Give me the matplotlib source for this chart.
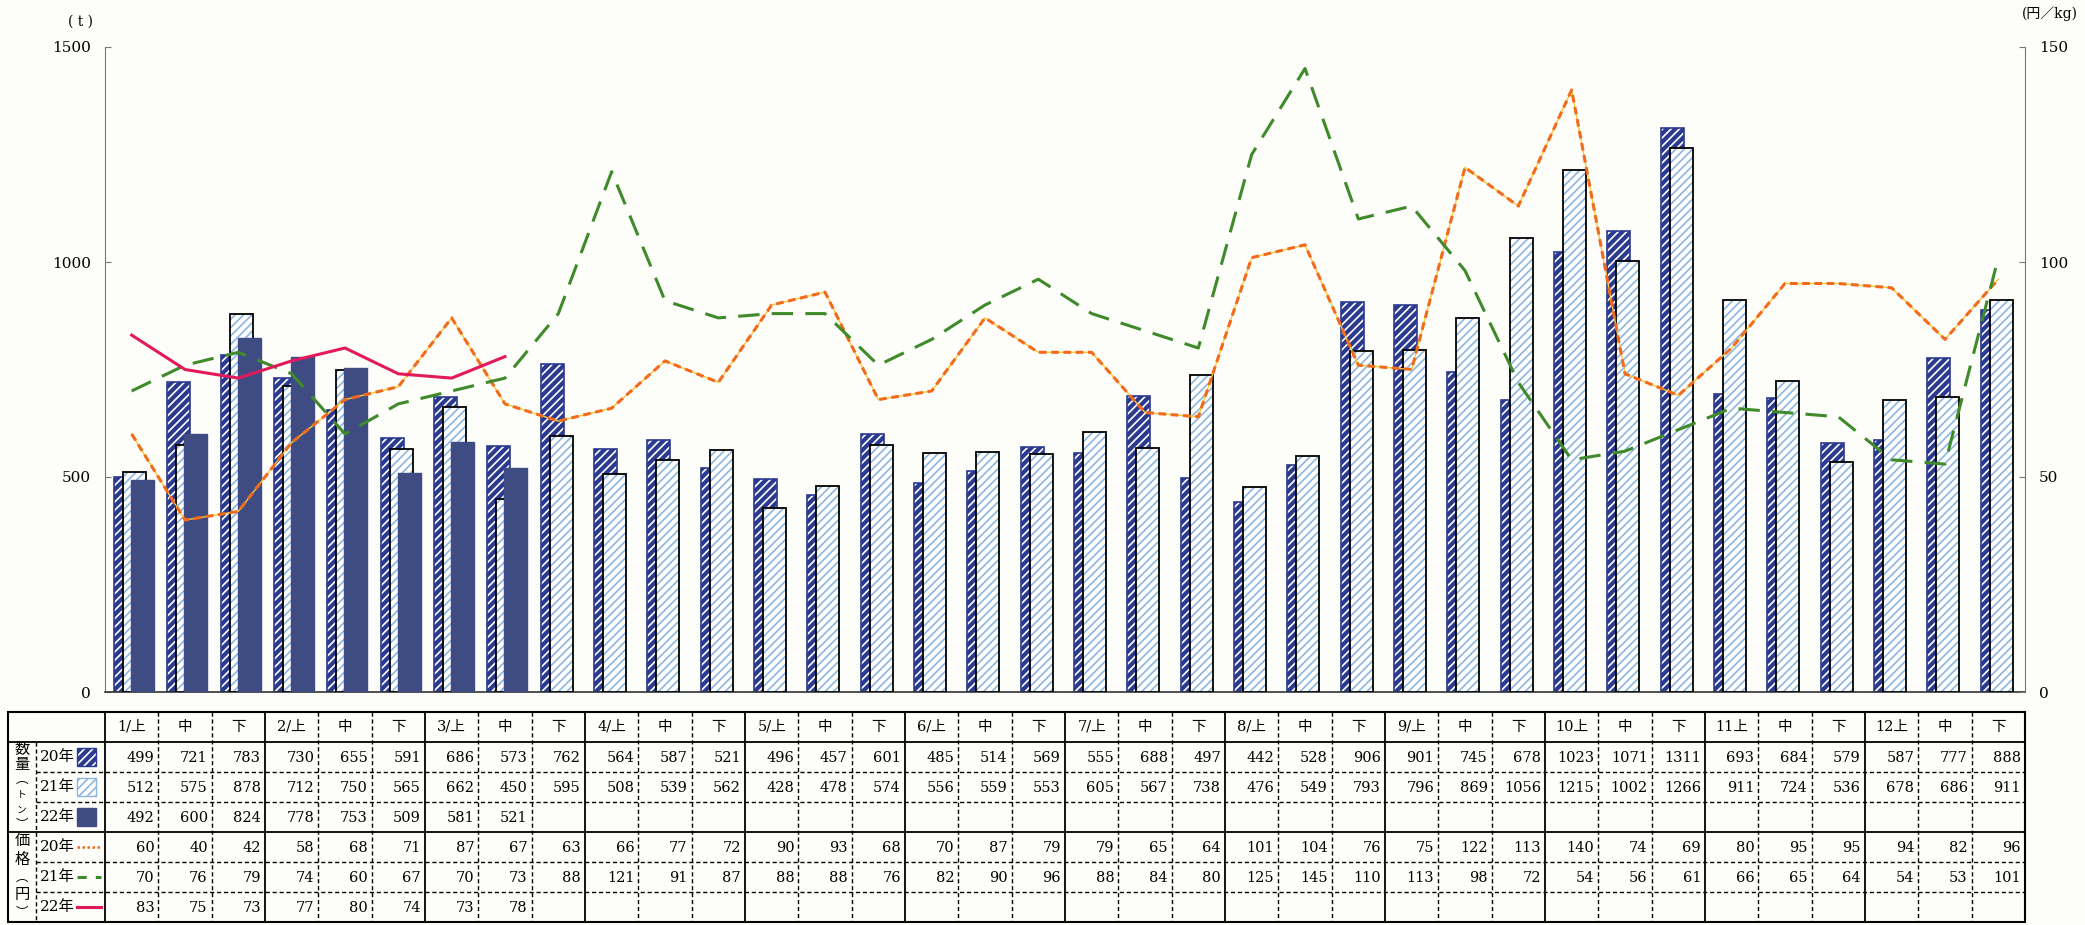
import matplotlib
matplotlib.use('Agg')
import matplotlib.pyplot as plt
from matplotlib.patches import Rectangle
import numpy as np

plt.rcParams['font.family'] = ['DejaVu Serif', 'Noto Sans CJK JP']
plt.rcParams['hatch.linewidth'] = 1.2

categories = ['1/上', '中', '下', '2/上', '中', '下', '3/上', '中', '下',
              '4/上', '中', '下', '5/上', '中', '下', '6/上', '中', '下',
              '7/上', '中', '下', '8/上', '中', '下', '9/上', '中', '下',
              '10上', '中', '下', '11上', '中', '下', '12上', '中', '下']
vol_20 = [499, 721, 783, 730, 655, 591, 686, 573, 762, 564, 587, 521, 496, 457, 601, 485, 514, 569,
          555, 688, 497, 442, 528, 906, 901, 745, 678, 1023, 1071, 1311, 693, 684, 579, 587, 777, 888]
vol_21 = [512, 575, 878, 712, 750, 565, 662, 450, 595, 508, 539, 562, 428, 478, 574, 556, 559, 553,
          605, 567, 738, 476, 549, 793, 796, 869, 1056, 1215, 1002, 1266, 911, 724, 536, 678, 686, 911]
vol_22 = [492, 600, 824, 778, 753, 509, 581, 521]
price_20 = [60, 40, 42, 58, 68, 71, 87, 67, 63, 66, 77, 72, 90, 93, 68, 70, 87, 79,
            79, 65, 64, 101, 104, 76, 75, 122, 113, 140, 74, 69, 80, 95, 95, 94, 82, 96]
price_21 = [70, 76, 79, 74, 60, 67, 70, 73, 88, 121, 91, 87, 88, 88, 76, 82, 90, 96,
            88, 84, 80, 125, 145, 110, 113, 98, 72, 54, 56, 61, 66, 65, 64, 54, 53, 101]
price_22 = [83, 75, 73, 77, 80, 74, 73, 78]
years = ['20年', '21年', '22年']

c20 = '#2B3A8F'
c21 = '#8DB6DE'
c22 = '#3F4C84'
c_or = '#F26A1B'
c_yel = '#F5C83A'
c_gr = '#3F8A2A'
c_red = '#E2195B'

W, H = 2085, 925
fig = plt.figure(figsize=(W / 100, H / 100), dpi=100)
fig.patch.set_facecolor('#FDFDF9')

def fx(px):
    return px / W

def fy(py):
    return 1 - py / H

# ---------------- main chart ----------------
axl, axr, axt, axb = 105, 2025, 47, 692
ax = fig.add_axes([fx(axl), fy(axb), (axr - axl) / W, (axb - axt) / H])
ax.set_facecolor('none')
n = len(categories)
x = np.arange(n)
bw = 0.43

ax.bar(x - 0.115, vol_20, bw, color=c20, edgecolor='white', hatch='////', linewidth=0, zorder=2)
ax.bar(x - 0.115, vol_20, bw, fill=False, edgecolor=c20, linewidth=1.2, zorder=2.5)
ax.bar(x + 0.055, vol_21, bw, color='white', edgecolor=c21, hatch='////', linewidth=0, zorder=3)
ax.bar(x + 0.055, vol_21, bw, fill=False, edgecolor='black', linewidth=1.3, zorder=3.5)
ax.bar(x[:len(vol_22)] + 0.205, vol_22, bw, color=c22, edgecolor=c22, linewidth=1.0, zorder=4)

ax.set_xlim(-0.5, n - 0.5)
ax.set_ylim(0, 1500)
ax.set_xticks([])
ax.set_yticks([0, 500, 1000, 1500])
ax.tick_params(axis='y', direction='in', length=4, color='#777777', labelsize=11, pad=10)
for s in ['top', 'right']:
    ax.spines[s].set_visible(False)
ax.spines['left'].set_color('#777777')
ax.spines['bottom'].set_color('#333333')
ax.spines['bottom'].set_linewidth(1.2)

ax2 = ax.twinx()
ax2.set_ylim(0, 150)
ax2.set_yticks([0, 50, 100, 150])
ax2.tick_params(axis='y', direction='in', length=4, color='#777777', labelsize=11, pad=10)
for s in ['top', 'left', 'bottom']:
    ax2.spines[s].set_visible(False)
ax2.spines['right'].set_color('#777777')

ax2.plot(x, price_20, color=c_yel, linewidth=1.0, zorder=5)
ax2.plot(x, price_20, color=c_or, linewidth=2.2, linestyle=(0, (2.5, 1.5)), zorder=6)
ax2.plot(x, price_21, color=c_gr, linewidth=2.2, linestyle=(0, (7, 4)), zorder=6)
ax2.plot(x[:len(price_22)], price_22, color=c_red, linewidth=2.2, zorder=7)

fig.text(fx(80), fy(22), '( t )', ha='center', va='center', fontsize=10)
fig.text(fx(2050), fy(14), '(円／kg)', ha='center', va='center', fontsize=10)

# ---------------- data table ----------------
tab = fig.add_axes([0, 0, 1, 1], zorder=-1)
tab.set_xlim(0, W)
tab.set_ylim(H, 0)
tab.axis('off')

tx0, tx1, tx2, tx3 = 8, 36, 105, 2025
ty0, rh = 712, 30
cw = (tx3 - tx2) / n
ry = [ty0 + rh * k for k in range(8)]
dash = (0, (3, 2))

tab.add_patch(Rectangle((tx0, ry[0]), tx3 - tx0, ry[7] - ry[0], fill=False, edgecolor='black', linewidth=1.5))
tab.plot([tx0, tx3], [ry[1], ry[1]], color='black', lw=1.3)
tab.plot([tx0, tx3], [ry[4], ry[4]], color='black', lw=1.3)
for k in [2, 3, 5, 6]:
    tab.plot([tx1, tx3], [ry[k], ry[k]], color='black', lw=1.0, linestyle=dash)
tab.plot([tx1, tx1], [ry[1], ry[7]], color='black', lw=1.0, linestyle=dash)
tab.plot([tx2, tx2], [ry[0], ry[7]], color='black', lw=1.3)
for k in range(1, n):
    xx = tx2 + k * cw
    if k % 3 == 0:
        tab.plot([xx, xx], [ry[0], ry[7]], color='black', lw=1.3)
    else:
        tab.plot([xx, xx], [ry[0], ry[7]], color='black', lw=1.0, linestyle=dash)

fs = 10.5
for i, c in enumerate(categories):
    tab.text(tx2 + (i + 0.5) * cw, (ry[0] + ry[1]) / 2, c, ha='center', va='center', fontsize=fs)

rows = [vol_20, vol_21, vol_22, price_20, price_21, price_22]
for r, vals in enumerate(rows):
    cy = (ry[r + 1] + ry[r + 2]) / 2
    for i, v in enumerate(vals):
        tab.text(tx2 + (i + 1) * cw - 4, cy + 1, str(v), ha='right', va='center', fontsize=fs)
    tab.text(tx1 + 4, cy, years[r % 3], ha='left', va='center', fontsize=11)

# legend swatches
sx, sw = 77, 19
cy = [(ry[r + 1] + ry[r + 2]) / 2 for r in range(6)]
tab.add_patch(Rectangle((sx, cy[0] - 9), sw, 18, facecolor=c20, edgecolor='white', hatch='////', lw=0))
tab.add_patch(Rectangle((sx, cy[0] - 9), sw, 18, fill=False, edgecolor=c20, lw=1))
tab.add_patch(Rectangle((sx, cy[1] - 9), sw, 18, facecolor='white', edgecolor=c21, hatch='////', lw=1))
tab.add_patch(Rectangle((sx, cy[2] - 9), sw, 18, facecolor=c22, edgecolor=c22, lw=1))
tab.plot([sx, sx + 24], [cy[3], cy[3]], color=c_or, lw=1.8, linestyle=(0, (1, 1)))
tab.plot([sx, sx + 24], [cy[4], cy[4]], color=c_gr, lw=2.2, linestyle=(0, (3, 3)))
tab.plot([sx, sx + 24], [cy[5], cy[5]], color=c_red, lw=2.2)

# vertical labels
vx = (tx0 + tx1) / 2
lab1 = [('数', 11), ('量', 11), ('︵', 9), ('ト', 7), ('ン', 7), ('︶', 9)]
for k, (ch, f) in enumerate(lab1):
    tab.text(vx, ry[1] + (k + 0.5) * (ry[4] - ry[1]) / len(lab1), ch, ha='center', va='center',
             fontsize=f, family=['Noto Sans CJK JP', 'DejaVu Sans'])
lab2 = [('価', 11), ('格', 11), ('︵', 9), ('円', 11), ('︶', 9)]
for k, (ch, f) in enumerate(lab2):
    tab.text(vx, ry[4] + (k + 0.5) * (ry[7] - ry[4]) / len(lab2), ch, ha='center', va='center',
             fontsize=f, family=['Noto Sans CJK JP', 'DejaVu Sans'])

fig.savefig('out.png', dpi=100, facecolor=fig.get_facecolor())
